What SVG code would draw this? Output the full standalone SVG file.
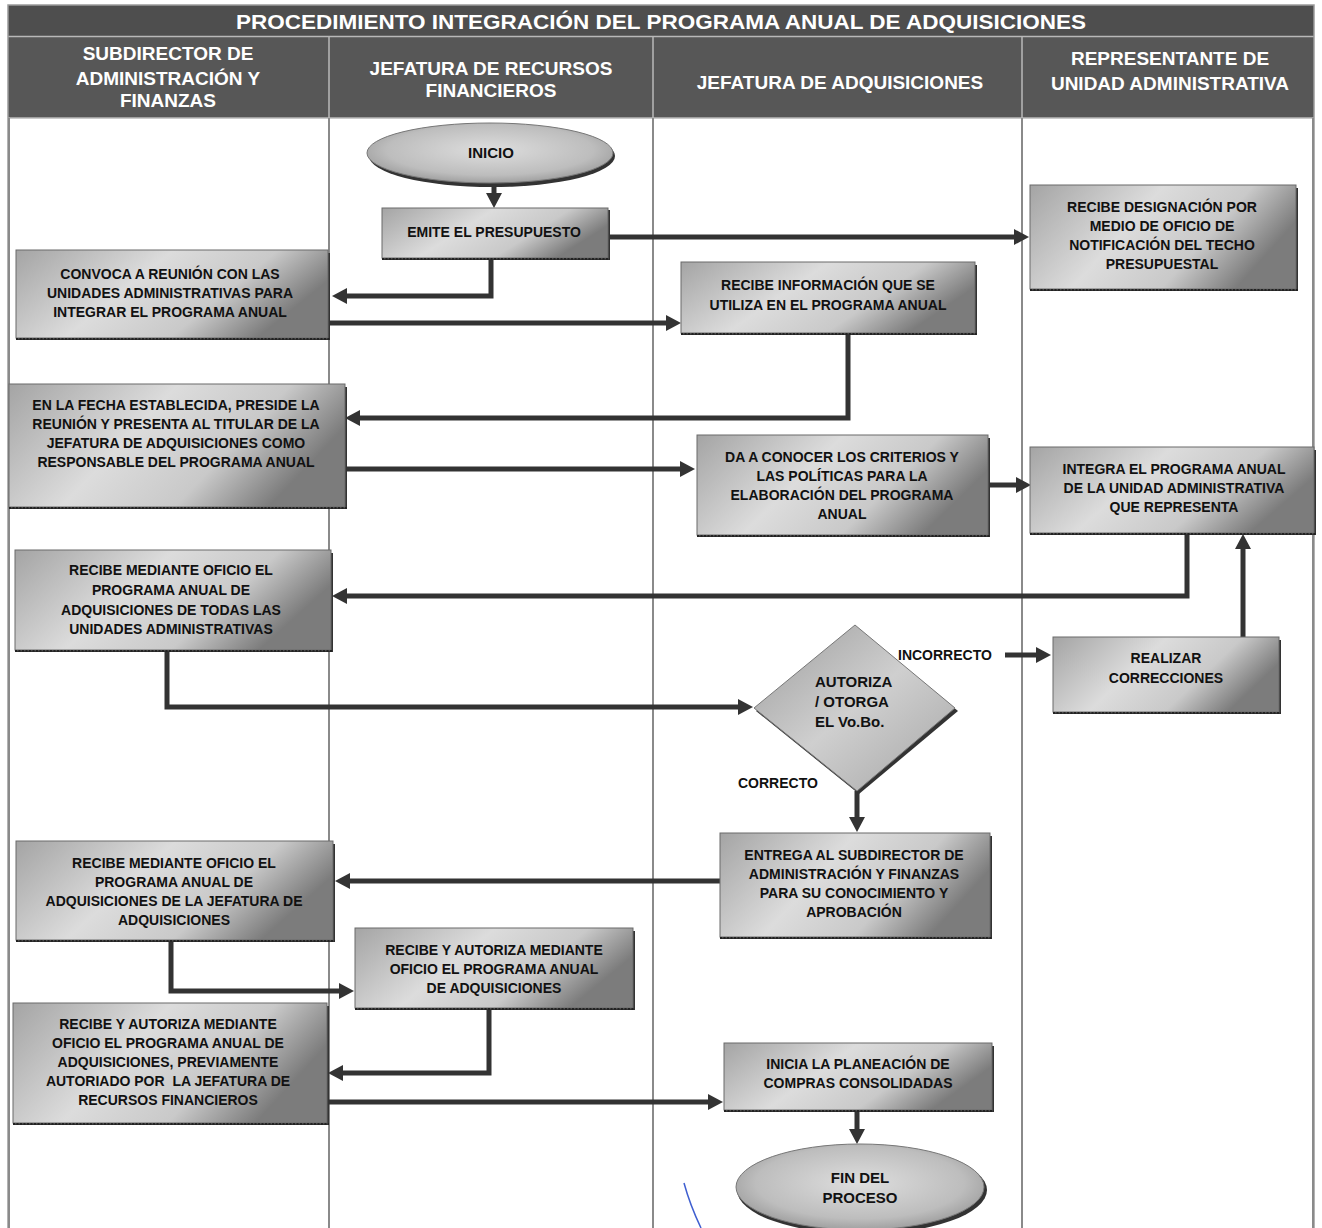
<svg xmlns="http://www.w3.org/2000/svg" width="1322" height="1228" viewBox="0 0 1322 1228">
<style>
.hdr{font-family:"Liberation Sans",Arial,sans-serif;font-weight:bold;font-size:19px;fill:#ffffff;text-anchor:middle}
.ttl{font-family:"Liberation Sans",Arial,sans-serif;font-weight:bold;font-size:20px;fill:#ffffff;text-anchor:middle}
.t{font-family:"Liberation Sans",Arial,sans-serif;font-weight:bold;font-size:14px;fill:#111111;text-anchor:middle}
.tl{font-family:"Liberation Sans",Arial,sans-serif;font-weight:bold;font-size:14px;fill:#111111}
.tb{font-family:"Liberation Sans",Arial,sans-serif;font-weight:bold;font-size:15px;fill:#111111;text-anchor:middle}
.box{fill:url(#gbox);stroke:#6a6a6a;stroke-width:1}
.shd{fill:#333333}
.jag{fill:none;stroke:#222;stroke-width:2;stroke-dasharray:2 1.5}
.lane{stroke:#8a8a8a;stroke-width:2;fill:none}
.hl{stroke:#b8b8b8;stroke-width:1.5;fill:none}
.c{fill:none;stroke:#333333;stroke-width:5;marker-end:url(#ah)}
</style>
<defs>
<linearGradient id="gbox" x1="0" y1="0" x2="1" y2="0.35">
<stop offset="0" stop-color="#a4a4a4"/>
<stop offset="0.45" stop-color="#dcdcdc"/>
<stop offset="0.75" stop-color="#c9c9c9"/>
<stop offset="1" stop-color="#7c7c7c"/>
</linearGradient>
<radialGradient id="gell" cx="0.5" cy="0.45" r="0.6">
<stop offset="0" stop-color="#dedede"/>
<stop offset="0.7" stop-color="#bdbdbd"/>
<stop offset="1" stop-color="#959595"/>
</radialGradient>
<linearGradient id="gdia" x1="0" y1="0" x2="1" y2="1">
<stop offset="0" stop-color="#9c9c9c"/>
<stop offset="0.5" stop-color="#cfcfcf"/>
<stop offset="1" stop-color="#a5a5a5"/>
</linearGradient>
<marker id="ah" markerUnits="userSpaceOnUse" markerWidth="15" markerHeight="16" refX="0" refY="8" orient="auto">
<path d="M0,0 L15,8 L0,16 z" fill="#333333"/>
</marker>
</defs>

<rect x="0" y="0" width="1322" height="1228" fill="#ffffff"/>

<g id="table">
<rect x="8" y="5" width="1306" height="31" fill="#4e4e4e"/>
<rect x="8" y="37" width="1306" height="81" fill="#575757"/>
<line x1="8" y1="36.5" x2="1314" y2="36.5" class="hl"/>
<line x1="8" y1="118" x2="1314" y2="118" class="hl"/>
<line x1="329" y1="37" x2="329" y2="118" class="hl"/>
<line x1="653" y1="37" x2="653" y2="118" class="hl"/>
<line x1="1022" y1="37" x2="1022" y2="118" class="hl"/>
<rect x="8" y="5" width="1306" height="1230" fill="none" stroke="#9a9a9a" stroke-width="1.5"/>
<line x1="9" y1="118" x2="9" y2="1228" class="lane"/>
<line x1="329" y1="118" x2="329" y2="1228" class="lane"/>
<line x1="653" y1="118" x2="653" y2="1228" class="lane"/>
<line x1="1022" y1="118" x2="1022" y2="1228" class="lane"/>
<line x1="1313" y1="118" x2="1313" y2="1228" class="lane"/>
<text class="ttl" x="661" y="29" textLength="850" lengthAdjust="spacingAndGlyphs">PROCEDIMIENTO INTEGRACIÓN DEL PROGRAMA ANUAL DE ADQUISICIONES</text>
<text class="hdr" x="168" y="60">SUBDIRECTOR DE</text>
<text class="hdr" x="168" y="85">ADMINISTRACIÓN Y</text>
<text class="hdr" x="168" y="107">FINANZAS</text>
<text class="hdr" x="491" y="75">JEFATURA DE RECURSOS</text>
<text class="hdr" x="491" y="97">FINANCIEROS</text>
<text class="hdr" x="840" y="89">JEFATURA DE ADQUISICIONES</text>
<text class="hdr" x="1170" y="65">REPRESENTANTE DE</text>
<text class="hdr" x="1170" y="90">UNIDAD ADMINISTRATIVA</text>
</g>

<g id="connectors">
<path class="c" d="M494,185 L494,193"/>
<path class="c" d="M608,237 L1014,237"/>
<path class="c" d="M491,258 L491,296 L347,296"/>
<path class="c" d="M328,323 L666,323"/>
<path class="c" d="M848,333 L848,418 L360,418"/>
<path class="c" d="M344,469 L680,469"/>
<path class="c" d="M988,485 L1016,485"/>
<path class="c" d="M1187,533 L1187,596 L347,596"/>
<path class="c" d="M167,650 L167,707 L738,707"/>
<path class="c" d="M1005,655 L1036,655"/>
<path class="c" d="M1243,637 L1243,549"/>
<path class="c" d="M857,791 L857,817"/>
<path class="c" d="M720,881 L350,881"/>
<path class="c" d="M171,940 L171,991 L339,991"/>
<path class="c" d="M489,1008 L489,1073 L343,1073"/>
<path class="c" d="M327,1102 L708,1102"/>
<path class="c" d="M857,1110 L857,1129"/>
<text class="tl" x="898" y="660">INCORRECTO</text>
<text class="tl" x="738" y="788">CORRECTO</text>
</g>

<g id="n-inicio">
<ellipse cx="492" cy="156" rx="123" ry="31" class="shd"/>
<ellipse cx="490" cy="153" rx="123" ry="30" fill="url(#gell)" stroke="#777" stroke-width="1"/>
<text class="tb" x="491" y="158">INICIO</text>
</g>

<g id="n-emite">
<rect x="384" y="210" width="226" height="50" class="shd"/>
<rect x="382" y="208" width="226" height="50" class="box"/>
<line x1="382" y1="259" x2="610" y2="259" class="jag"/>
<text class="t" x="494" y="237">EMITE EL PRESUPUESTO</text>
</g>

<g id="n-designacion">
<rect x="1032" y="188" width="266" height="103" class="shd"/>
<rect x="1030" y="185" width="266" height="104" class="box"/>
<line x1="1030" y1="290" x2="1298" y2="290" class="jag"/>
<text class="t" x="1162" y="212">RECIBE DESIGNACIÓN POR</text>
<text class="t" x="1162" y="231">MEDIO DE OFICIO DE</text>
<text class="t" x="1162" y="250">NOTIFICACIÓN DEL TECHO</text>
<text class="t" x="1162" y="269">PRESUPUESTAL</text>
</g>

<g id="n-convoca">
<rect x="18" y="253" width="312" height="87" class="shd"/>
<rect x="16" y="250" width="312" height="88" class="box"/>
<line x1="16" y1="339" x2="330" y2="339" class="jag"/>
<text class="t" x="170" y="279">CONVOCA A REUNIÓN CON LAS</text>
<text class="t" x="170" y="298">UNIDADES ADMINISTRATIVAS PARA</text>
<text class="t" x="170" y="317">INTEGRAR EL PROGRAMA ANUAL</text>
</g>

<g id="n-recibe-info">
<rect x="683" y="265" width="294" height="70" class="shd"/>
<rect x="681" y="262" width="294" height="71" class="box"/>
<line x1="681" y1="334" x2="977" y2="334" class="jag"/>
<text class="t" x="828" y="290">RECIBE INFORMACIÓN QUE SE</text>
<text class="t" x="828" y="310">UTILIZA EN EL PROGRAMA ANUAL</text>
</g>

<g id="n-fecha">
<rect x="11" y="387" width="336" height="122" class="shd"/>
<rect x="9" y="384" width="336" height="123" class="box"/>
<line x1="9" y1="508" x2="347" y2="508" class="jag"/>
<text class="t" x="176" y="410">EN LA FECHA ESTABLECIDA, PRESIDE LA</text>
<text class="t" x="176" y="429">REUNIÓN Y PRESENTA AL TITULAR DE LA</text>
<text class="t" x="176" y="448">JEFATURA DE ADQUISICIONES COMO</text>
<text class="t" x="176" y="467">RESPONSABLE DEL PROGRAMA ANUAL</text>
</g>

<g id="n-criterios">
<rect x="699" y="438" width="291" height="99" class="shd"/>
<rect x="697" y="435" width="291" height="100" class="box"/>
<line x1="697" y1="536" x2="990" y2="536" class="jag"/>
<text class="t" x="842" y="462">DA A CONOCER LOS CRITERIOS Y</text>
<text class="t" x="842" y="481">LAS POLÍTICAS PARA LA</text>
<text class="t" x="842" y="500">ELABORACIÓN DEL PROGRAMA</text>
<text class="t" x="842" y="519">ANUAL</text>
</g>

<g id="n-integra">
<rect x="1032" y="450" width="284" height="85" class="shd"/>
<rect x="1030" y="447" width="284" height="86" class="box"/>
<line x1="1030" y1="534" x2="1316" y2="534" class="jag"/>
<text class="t" x="1174" y="474">INTEGRA EL PROGRAMA ANUAL</text>
<text class="t" x="1174" y="493">DE LA UNIDAD ADMINISTRATIVA</text>
<text class="t" x="1174" y="512">QUE REPRESENTA</text>
</g>

<g id="n-recibe-todas">
<rect x="17" y="553" width="316" height="99" class="shd"/>
<rect x="15" y="550" width="316" height="100" class="box"/>
<line x1="15" y1="651" x2="333" y2="651" class="jag"/>
<text class="t" x="171" y="575">RECIBE MEDIANTE OFICIO EL</text>
<text class="t" x="171" y="595">PROGRAMA ANUAL DE</text>
<text class="t" x="171" y="615">ADQUISICIONES DE TODAS LAS</text>
<text class="t" x="171" y="634">UNIDADES ADMINISTRATIVAS</text>
</g>

<g id="n-autoriza">
<polygon points="857,628 958,711 859,794 756,711" class="shd"/>
<polygon points="855,625 955,708 857,791 754,708" fill="url(#gdia)" stroke="#777" stroke-width="1"/>
<text class="tl" x="815" y="687" style="font-size:15px">AUTORIZA</text>
<text class="tl" x="815" y="707" style="font-size:15px">/ OTORGA</text>
<text class="tl" x="815" y="727" style="font-size:15px">EL Vo.Bo.</text>
</g>

<g id="n-correcciones">
<rect x="1055" y="640" width="226" height="74" class="shd"/>
<rect x="1053" y="637" width="226" height="75" class="box"/>
<line x1="1053" y1="713" x2="1281" y2="713" class="jag"/>
<text class="t" x="1166" y="663">REALIZAR</text>
<text class="t" x="1166" y="683">CORRECCIONES</text>
</g>

<g id="n-entrega">
<rect x="722" y="836" width="270" height="103" class="shd"/>
<rect x="720" y="833" width="270" height="104" class="box"/>
<line x1="720" y1="938" x2="992" y2="938" class="jag"/>
<text class="t" x="854" y="860">ENTREGA AL SUBDIRECTOR DE</text>
<text class="t" x="854" y="879">ADMINISTRACIÓN Y FINANZAS</text>
<text class="t" x="854" y="898">PARA SU CONOCIMIENTO Y</text>
<text class="t" x="854" y="917">APROBACIÓN</text>
</g>

<g id="n-recibe-jefatura">
<rect x="18" y="844" width="317" height="98" class="shd"/>
<rect x="16" y="841" width="317" height="99" class="box"/>
<line x1="16" y1="941" x2="335" y2="941" class="jag"/>
<text class="t" x="174" y="868">RECIBE MEDIANTE OFICIO EL</text>
<text class="t" x="174" y="887">PROGRAMA ANUAL DE</text>
<text class="t" x="174" y="906">ADQUISICIONES DE LA JEFATURA DE</text>
<text class="t" x="174" y="925">ADQUISICIONES</text>
</g>

<g id="n-autoriza-jrf">
<rect x="357" y="931" width="278" height="79" class="shd"/>
<rect x="355" y="928" width="278" height="80" class="box"/>
<line x1="355" y1="1009" x2="635" y2="1009" class="jag"/>
<text class="t" x="494" y="955">RECIBE Y AUTORIZA MEDIANTE</text>
<text class="t" x="494" y="974">OFICIO EL PROGRAMA ANUAL</text>
<text class="t" x="494" y="993">DE ADQUISICIONES</text>
</g>

<g id="n-autoriza-saf">
<rect x="15" y="1006" width="314" height="119" class="shd"/>
<rect x="13" y="1003" width="314" height="120" class="box"/>
<line x1="13" y1="1124" x2="329" y2="1124" class="jag"/>
<text class="t" x="168" y="1029">RECIBE Y AUTORIZA MEDIANTE</text>
<text class="t" x="168" y="1048">OFICIO EL PROGRAMA ANUAL DE</text>
<text class="t" x="168" y="1067">ADQUISICIONES, PREVIAMENTE</text>
<text class="t" x="168" y="1086" style="white-space:pre">AUTORIADO POR  LA JEFATURA DE</text>
<text class="t" x="168" y="1105">RECURSOS FINANCIEROS</text>
</g>

<g id="n-inicia">
<rect x="726" y="1046" width="268" height="66" class="shd"/>
<rect x="724" y="1043" width="268" height="67" class="box"/>
<line x1="724" y1="1111" x2="994" y2="1111" class="jag"/>
<text class="t" x="858" y="1069">INICIA LA PLANEACIÓN DE</text>
<text class="t" x="858" y="1088">COMPRAS CONSOLIDADAS</text>
</g>

<g id="n-fin">
<ellipse cx="862" cy="1190" rx="125" ry="44" class="shd"/>
<ellipse cx="860" cy="1187" rx="124" ry="43" fill="url(#gell)" stroke="#777" stroke-width="1"/>
<text class="tb" x="860" y="1183">FIN DEL</text>
<text class="tb" x="860" y="1203">PROCESO</text>
</g>

<path d="M684,1183 Q690,1205 701,1228" fill="none" stroke="#3f5fd0" stroke-width="1.5"/>
</svg>
